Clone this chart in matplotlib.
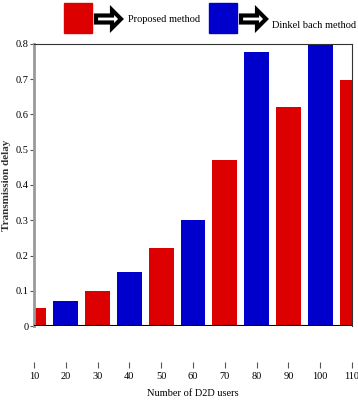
import matplotlib
matplotlib.use('Agg')
import matplotlib.pyplot as plt
from matplotlib.patches import Rectangle, FancyArrow

# values
users = [10, 20, 30, 40, 50, 60, 70, 80, 90, 100, 110]
delay = [0.051, 0.070, 0.100, 0.153, 0.221, 0.300, 0.470, 0.778, 0.621, 0.805, 0.698]
method = ['p', 'd', 'p', 'd', 'p', 'd', 'p', 'd', 'p', 'd', 'p']
labels = ['Proposed method', 'Dinkel bach method']

RED = '#dd0000'
BLUE = '#0000cc'

fig = plt.figure(figsize=(3.58, 4.03), dpi=100)
ax = fig.add_axes([34 / 358, 1 - 326 / 403, 318 / 358, 282 / 403])

cols = [RED if m == 'p' else BLUE for m in method]
ax.bar(users, delay, width=7.8, color=cols, zorder=2)
ax.axhline(0, color='black', lw=1.5, zorder=3)

ax.set_xlim(10, 110)
ax.set_ylim(0, 0.8)
ax.set_xticks(users)
ax.set_yticks([0, 0.1, 0.2, 0.3, 0.4, 0.5, 0.6, 0.7, 0.8])
ax.set_yticklabels(['0', '0.1', '0.2', '0.3', '0.4', '0.5', '0.6', '0.7', '0.8'])

ax.spines['left'].set_color('#999999')
ax.spines['left'].set_linewidth(2)
ax.spines['top'].set_color('#333333')
ax.spines['right'].set_color('#333333')
ax.spines['bottom'].set_position(('outward', 26))
ax.spines['bottom'].set_visible(False)

ax.tick_params(axis='y', length=3, color='#555555', labelsize=7.5, pad=1)
ax.tick_params(axis='x', length=4, color='#555555', labelsize=7.5, pad=3)
for t in ax.get_xticklabels() + ax.get_yticklabels():
    t.set_family('Liberation Serif')

ax.set_xlabel('Number of D2D users', family='Liberation Serif', fontsize=7.5, labelpad=6)
ax.set_ylabel('Transmission delay', family='Liberation Serif', fontsize=8,
              fontweight='bold', color='#333333', labelpad=3)

# legend drawn at the top with boxes and hollow arrows
def legend_item(x0, color, text, tx, ty):
    fig.patches.append(Rectangle((x0 / 358, 1 - 33 / 403), 28 / 358, 30 / 403,
                                 transform=fig.transFigure, color=color))
    fig.patches.append(FancyArrow((x0 + 32) / 358, 1 - 19 / 403, 16 / 358, 0,
                                  width=7 / 403, head_width=18 / 403, head_length=9 / 358,
                                  transform=fig.transFigure, facecolor='white',
                                  edgecolor='black', linewidth=3,
                                  length_includes_head=False))
    fig.text(tx / 358, 1 - ty / 403, text, family='Liberation Serif', fontsize=7.5,
             va='center', ha='left')

legend_item(64, RED, labels[0], 128, 20)
legend_item(209, BLUE, labels[1], 272, 26)

fig.savefig('out.png', dpi=100)
